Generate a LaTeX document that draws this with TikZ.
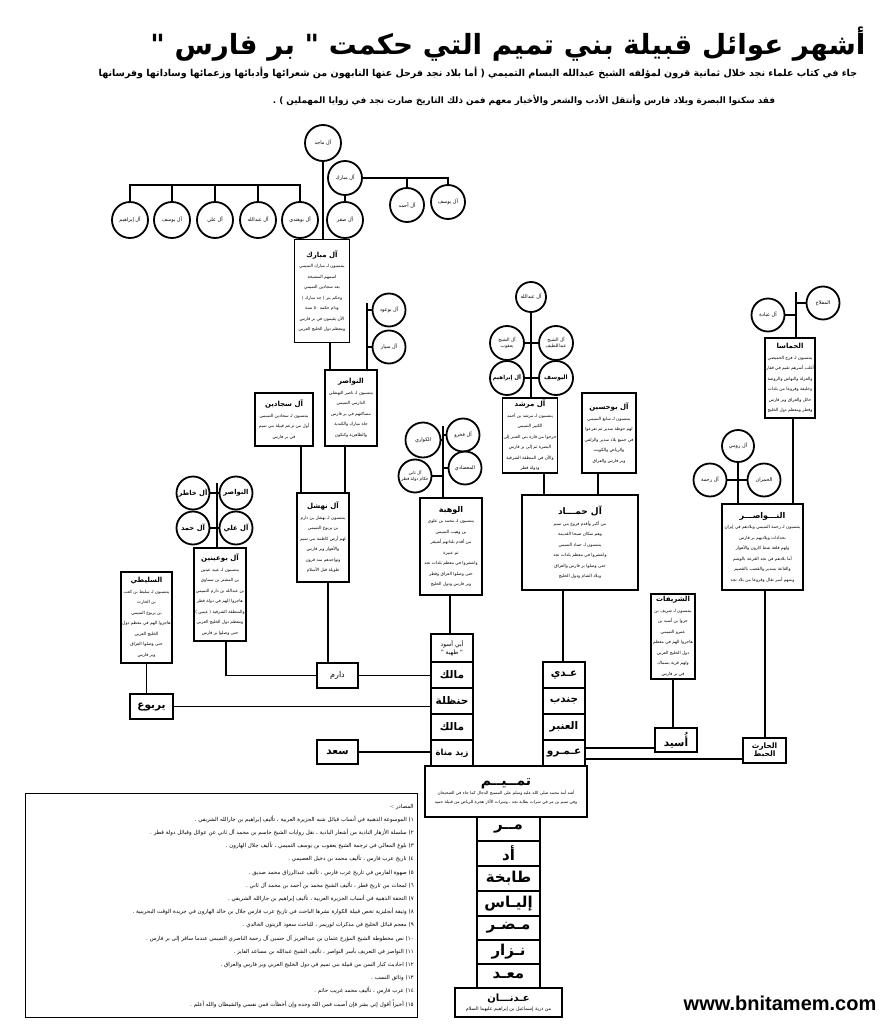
\documentclass[tikz,border=0pt]{standalone}
\usepackage{fontspec}
\usepackage{tikz}
\usetikzlibrary{positioning}
\newfontfamily\arabicfont[Script=Arabic]{DejaVu Sans}
\newfontfamily\webfont{Liberation Sans}
\TeXXeTstate=1
\newcommand\ar[1]{{\arabicfont\beginR #1\endR}}
\newcommand\hd[1]{{\fontsize{7}{11}\selectfont\bfseries\ar{#1}}}

\begin{document}
\begin{tikzpicture}[x=1pt,y=-1pt,
  link/.style={line width=1.8pt},
  circ/.style={circle,draw,line width=1.8pt,inner sep=0pt,minimum size=34pt,align=center,font=\fontsize{5}{6.5}\selectfont},
  namecirc/.style={circ,font=\fontsize{6.8}{8}\selectfont\bfseries},
  infobox/.style={draw,line width=1.8pt,inner sep=1pt,align=center,font=\fontsize{4.3}{10.5}\selectfont},
  namebox/.style={draw,line width=1.8pt,inner sep=0pt,minimum width=42pt,minimum height=25pt,align=center,font=\fontsize{10.5}{12}\selectfont\bfseries},
  stackbox/.style={namebox,minimum height=26pt},
  colbox/.style={namebox,minimum width=63pt,minimum height=24.6pt,font=\fontsize{15}{16}\selectfont\bfseries}]
  \useasboundingbox[fill=white] (0,0) rectangle (890,1024);

  % heading
  \node (title) at (508,44) [font=\fontsize{27.8}{33}\selectfont\bfseries] {\ar{أشهر عوائل قبيلة بني تميم التي حكمت " بر فارس "}};
  \node (intro1) at (478,73) [font=\fontsize{9.5}{11}\selectfont\bfseries] {\ar{جاء في كتاب علماء نجد خلال ثمانية قرون لمؤلفه الشيخ عبدالله البسام التميمي ( أما بلاد نجد فرحل عنها النابهون من شعرائها وأدبائها وزعمائها وساداتها وفرسانها}};
  \node (intro2) at (524,100) [font=\fontsize{8.8}{11}\selectfont\bfseries] {\ar{فقد سكنوا البصرة وبلاد فارس وأنتقل الأدب والشعر والأخبار معهم فمن ذلك التاريخ صارت نجد في زوايا المهملين ) .}};

  % top branch (al mubarak)
  \node[circ,minimum size=36pt] (majid) at (323,143) {\ar{آل ماجد}};
  \node[circ,minimum size=36pt] (ibrahim1) at (130,220) {\ar{آل إبراهيم}};
  \node[circ,minimum size=36pt] (yusuf1) at (172,220) {\ar{آل يوسف}};
  \node[circ,minimum size=36pt] (ali1) at (215,220) {\ar{آل علي}};
  \node[circ,minimum size=36pt] (abdullah1) at (258,220) {\ar{آل عبدالله}};
  \node[circ,minimum size=36pt] (buhindi) at (300,220) {\ar{آل بوهندي}};
  \node[circ] (mubarakc) at (345,178) {\ar{آل مبارك}};
  \node[circ,minimum size=36pt] (saqr) at (345,220) {\ar{آل صقر}};
  \node[circ] (ahmad) at (407,205) {\ar{آل أحمد}};
  \node[circ] (yusuf2) at (448,202) {\ar{آل يوسف}};
  \coordinate (lbar) at (0,185);
  \draw[link] (ibrahim1.north) |- (buhindi |- lbar) -- (buhindi.north);
  \foreach \n in {yusuf1,ali1,abdullah1}
    \draw[link] (\n.north) -- (\n |- lbar);
  \draw[link] (mubarakc.east) -| (yusuf2.north);
  \draw[link] (ahmad |- mubarakc) -- (ahmad.north);
  \draw[link] (mubarakc.south) -- (saqr.north);

  \node[infobox,minimum width=55pt,minimum height=103pt] (mubarakbox) at (322,291) {\hd{آل مبارك}\\\ar{ينتسبون لـ مبارك التميمي}\\\ar{اسمهم المشيخة}\\\ar{بعد سجادين التميمي}\\\ar{وحكم بنر ( جد مبارك )}\\\ar{ودام حكمه ٥٠ سنة}\\\ar{الآن يقيمون في بر فارس}\\\ar{ومعظم دول الخليج العربي}};
  \draw[link] (majid.south) -- (majid |- mubarakbox.north);

  \node[circ,minimum size=33pt] (buoud) at (389,310) {\ar{آل بوعود}};
  \node[circ,minimum size=33pt] (sayyar) at (389,347) {\ar{آل سيار}};
  \node[infobox,minimum width=52pt,minimum height=76pt] (nawasir1) at (351,408) {\hd{النواصر}\\\ar{ينتسبون لـ ناصر النهشلي}\\\ar{الدارمي التميمي}\\\ar{مساكنهم في بر فارس}\\\ar{جاه مبارك والكندية}\\\ar{والطاهرية وكنكون}};
  \coordinate (bq) at (367,303);
  \draw[link] (bq) -- (bq |- nawasir1.north);
  \draw[link] (buoud.west) -- (bq |- buoud.west);
  \draw[link] (sayyar.west) -- (bq |- sayyar.west);
  \coordinate (mt) at (330,0);
  \draw[link] (mt |- mubarakbox.south) -- (mt |- nawasir1.north);

  \node[infobox,minimum width=58pt,minimum height=53pt] (sajjadin) at (284,419.5) {\hd{آل سجادين}\\\ar{ينتسبون لـ سجادين التميمي}\\\ar{أول من تزعم قبيلة بني تميم}\\\ar{في بر فارس}};
  \node[infobox,minimum width=52pt,minimum height=89pt] (nahshal) at (323,537.5) {\hd{آل نهشل}\\\ar{ينتسبون لـ نهشل بن دارم}\\\ar{بن يربوع التميمي}\\\ar{لهم أرض كاظمة بني تميم}\\\ar{والأهواز وبر فارس}\\\ar{وتواجدهم منذ قرون}\\\ar{طويلة قبل الأسلام}};
  \coordinate (sn) at (301,0);
  \coordinate (nn) at (345,0);
  \draw[link] (sn |- sajjadin.south) -- (sn |- nahshal.north);
  \draw[link] (nn |- nawasir1.south) -- (nn |- nahshal.north);

  % left branch
  \node[namecirc,minimum size=33pt] (khatir) at (193,493) {\ar{آل خاطر}};
  \node[namecirc,minimum size=33pt] (nawasir2) at (236,493) {\ar{النواصر}};
  \node[namecirc,minimum size=33pt] (hamad) at (193,528) {\ar{آل حمد}};
  \node[namecirc,minimum size=33pt] (ali2) at (236,528) {\ar{آل علي}};
  \node[infobox,minimum width=52pt,minimum height=93pt] (buaynain) at (220,594.5) {\hd{آل بوعينين}\\\ar{ينتسبون لـ عبيد عينين}\\\ar{بن المشتر بن سماوي}\\\ar{بن عبدالله بن دارم التميمي}\\\ar{هاجروا الهم في دولة قطر}\\\ar{والمنطقة الشرقية ( عينين )}\\\ar{ومعظم دول الخليج العربي}\\\ar{حتى وصلوا بر فارس}};
  \coordinate (aq) at (217,483);
  \draw[link] (aq) -- (aq |- buaynain.north);
  \foreach \n in {khatir,hamad} \draw[link] (\n.east) -- (aq |- \n);
  \foreach \n in {nawasir2,ali2} \draw[link] (\n.west) -- (aq |- \n);

  \node[infobox,minimum width=51pt,minimum height=91pt] (sulayti) at (146.5,617.5) {\hd{السليطي}\\\ar{ينتسبون لـ سليط بن كعب}\\\ar{بن الحارث}\\\ar{بن يربوع التميمي}\\\ar{هاجروا الهم في معظم دول}\\\ar{الخليج العربي}\\\ar{حتى وصلوا العراق}\\\ar{وبر فارس}};
  \node[namebox,minimum width=43pt] (yarbu) at (151.5,706.5) {\ar{يربوع}};
  \node[namebox,minimum width=41pt,font=\fontsize{8}{9}\selectfont] (darim) at (337.5,675.5) {\ar{دارم}};
  \node[namebox,minimum width=41pt,minimum height=24pt] (saad) at (337.5,752) {\ar{سعد}};

  % left stack
  \node[stackbox,minimum height=28pt,font=\fontsize{6}{7.5}\selectfont] (abuaswad) at (452,648) {\ar{أبي أسود}\\\ar{" طهية "}};
  \node[stackbox] (malik1) at (452,675) {\ar{مالك}};
  \node[stackbox] (hanzala) at (452,701) {\ar{حنظلة}};
  \node[stackbox] (malik2) at (452,727) {\ar{مالك}};
  \node[stackbox,font=\fontsize{8.5}{10}\selectfont\bfseries] (zayd) at (452,753) {\ar{زيد مناة}};
  \coordinate (bd) at (226,0);
  \draw[link] (bd |- buaynain.south) |- (darim.west);
  \coordinate (nd) at (328,0);
  \draw[link] (nd |- nahshal.south) -- (nd |- darim.north);
  \draw[link] (darim.east) -- (malik1.west |- darim.east);
  \draw[link] (sulayti.south) -- (sulayti.south |- yarbu.north);
  \draw[link] (yarbu.east) -- (hanzala.west |- yarbu.east);
  \draw[link] (saad.east) -- (zayd.west |- saad.east);

  % al wahba
  \node[circ,minimum size=35pt] (kawari) at (423,440) {\ar{الكواري}};
  \node[circ,minimum size=33pt] (fakhro) at (463,435) {\ar{آل فخرو}};
  \node[circ,minimum size=33pt,font=\fontsize{4.3}{5.5}\selectfont] (thani) at (415,476) {\ar{آل ثاني}\\\ar{حكام دولة قطر}};
  \node[circ,minimum size=33pt] (midadi) at (465,468) {\ar{المعضادي}};
  \node[infobox,minimum width=62pt,minimum height=97pt] (wahba) at (451,546.5) {{\fontsize{8}{12}\selectfont\bfseries\ar{الوهبة}}\\\ar{ينتسبون لـ محمد بن علوي}\\\ar{بن وهيب التميمي}\\\ar{من أقدم بلداتهم أشيقر}\\\ar{ثم عنيزة}\\\ar{وانتشروا في معظم بلدات نجد}\\\ar{حتى وصلوا العراق وقطر}\\\ar{وبر فارس ودول الخليج}};
  \coordinate (wq) at (443,426);
  \draw[link] (wq) -- (wq |- wahba.north);
  \foreach \n in {kawari,thani} \draw[link] (\n.east) -- (wq |- \n);
  \foreach \n in {fakhro,midadi} \draw[link] (\n.west) -- (wq |- \n);
  \coordinate (wa) at (450,0);
  \draw[link] (wa |- wahba.south) -- (wa |- abuaswad.north);

  % al hammad
  \node[circ,minimum size=30pt] (abdullah2) at (531,297) {\ar{آل عبدالله}};
  \node[circ,minimum size=34pt,font=\fontsize{4.6}{6}\selectfont] (yaqub) at (507,343) {\ar{آل الشيخ}\\\ar{يعقوب}};
  \node[circ,minimum size=34pt,font=\fontsize{4.6}{6}\selectfont] (abdullatif) at (556,343) {\ar{آل الشيخ}\\\ar{عبداللطيف}};
  \node[namecirc,minimum size=34pt,font=\fontsize{5.5}{7}\selectfont\bfseries] (ibrahim2) at (507,378) {\ar{آل إبراهيم}};
  \node[namecirc,minimum size=34pt,font=\fontsize{6}{7}\selectfont\bfseries] (yusuf3) at (556,378) {\ar{اليوسف}};
  \node[infobox,minimum width=54pt,minimum height=75pt] (murshid) at (530,435.5) {\hd{آل مرشد}\\\ar{ينتسبون لـ مرشد بن أحمد}\\\ar{الكبير التميمي}\\\ar{خرجوا من قارة بني العنبر إلى}\\\ar{البصرة ثم إلى بر فارس}\\\ar{والآن في المنطقة الشرقية}\\\ar{ودولة قطر}};
  \node[infobox,minimum width=54pt,minimum height=80pt] (buhusain) at (609,433) {\hd{آل بوحسين}\\\ar{ينتسبون لـ سابع التميمي}\\\ar{لهم حوطة سدير ثم تفرعوا}\\\ar{في جميع بلاد سدير والزلفي}\\\ar{والرياض والكويت}\\\ar{وبر فارس والعراق}};
  \coordinate (hq) at (531,0);
  \draw[link] (abdullah2.south) -- (hq |- murshid.north);
  \foreach \n in {yaqub,ibrahim2} \draw[link] (\n.east) -- (hq |- \n);
  \foreach \n in {abdullatif,yusuf3} \draw[link] (\n.west) -- (hq |- \n);
  \node[infobox,minimum width=116pt,minimum height=95pt] (hammad) at (580,542.5) {{\fontsize{9}{13}\selectfont\bfseries\ar{آل حمـــاد}}\\\ar{من أكبر وأقدم فروع بني تميم}\\\ar{وهم سكان صبحا القديمة}\\\ar{ينتسبون لـ حماد التميمي}\\\ar{وانتشروا في معظم بلدات نجد}\\\ar{حتى وصلوا بر فارس والعراق}\\\ar{وبلاد الشام ودول الخليج}};
  \coordinate (mh) at (544,0);
  \coordinate (bh) at (598,0);
  \draw[link] (mh |- murshid.south) -- (mh |- hammad.north);
  \draw[link] (bh |- buhusain.south) -- (bh |- hammad.north);

  % right stack
  \node[stackbox] (adi) at (564,675) {\ar{عـدي}};
  \node[stackbox] (jundub) at (564,701) {\ar{جندب}};
  \node[stackbox] (anbar) at (564,727) {\ar{العنبر}};
  \node[stackbox] (amr) at (564,753) {\ar{عـمـرو}};
  \coordinate (ha) at (563,0);
  \draw[link] (ha |- hammad.south) -- (ha |- adi.north);

  % right branch
  \node[circ,minimum size=33pt] (miflah) at (823,303) {\ar{المفلاح}};
  \node[circ,minimum size=33pt] (abada) at (768,315) {\ar{آل عبادة}};
  \node[infobox,minimum width=50pt,minimum height=80pt] (hamasa) at (790,378) {\hd{الحماسا}\\\ar{ينتسبون لـ فرج الحميضي}\\\ar{أغلب أسرهم تقيم في قفار}\\\ar{والعزلة والنهاش والروضة}\\\ar{وخليفة وفروعا من بلدات}\\\ar{حائل والعراق وبر فارس}\\\ar{وقطر ومعظم دول الخليج}};
  \coordinate (mq) at (796,292);
  \draw[link] (mq) -- (mq |- hamasa.north);
  \draw[link] (miflah.west) -- (mq |- miflah.west);
  \draw[link] (abada.east) -- (mq |- abada.east);

  \node[circ,minimum size=32pt] (rumi) at (738,446) {\ar{آل رومي}};
  \node[circ,minimum size=33pt] (rahma) at (710,480) {\ar{آل رحمة}};
  \node[circ,minimum size=33pt] (humran) at (764,480) {\ar{الحمران}};
  \node[infobox,minimum width=81pt,minimum height=86pt] (nawasir3) at (762.5,547) {{\fontsize{8}{12}\selectfont\bfseries\ar{النـــواصـــر}}\\\ar{ينتسبون لـ رحمة التميمي وبلادهم في إيران}\\\ar{بحدادات ويلاديهم بر فارس}\\\ar{ولهم قلعة شط كارون والأهواز}\\\ar{أما بلادهم في نجد القرعة بالوشم}\\\ar{والقاعة بسدير والقصب بالقصيم}\\\ar{ومنهم أسر تقال وفروعا من بلاد نجد}};
  \draw[link] (rumi.south) -- (rumi.south |- nawasir3.north);
  \draw[link] (rahma.east) -- (rumi |- rahma.east);
  \draw[link] (humran.west) -- (rumi |- humran.west);
  \coordinate (hn) at (793,0);
  \draw[link] (hn |- hamasa.south) -- (hn |- nawasir3.north);

  \node[infobox,minimum width=44pt,minimum height=85pt] (sharifat) at (673,636.5) {\hd{الشريفات}\\\ar{ينتسبون لـ شريف بن}\\\ar{جروا بن أسيد بن}\\\ar{عمرو التميمي}\\\ar{هاجروا الهم في معظم}\\\ar{دول الخليج العربي}\\\ar{ولهم قرية بسماك}\\\ar{في بر فارس}};
  \node[namebox,minimum height=24pt] (usayd) at (676,740) {\ar{أُسيد}};
  \node[namebox,minimum width=43pt,font=\fontsize{7.5}{8.5}\selectfont\bfseries] (harith) at (764.5,750.5) {\ar{الحارث}\\\ar{الحبط}};
  \draw[link] (sharifat.south) -- (sharifat.south |- usayd.north);
  \coordinate (nh) at (765,0);
  \draw[link] (nh |- nawasir3.south) -- (nh |- harith.north);
  \coordinate (ua) at (0,748);
  \coordinate (hb) at (0,759);
  \draw[link] (amr.east |- ua) -- (usayd.west |- ua);
  \draw[link] (amr.east |- hb) -- (harith.west |- hb);

  % tamim and the line down to adnan
  \node[infobox,minimum width=162pt,minimum height=51pt,font=\fontsize{4.2}{9}\selectfont] (tamim) at (506,791.5) {{\fontsize{14}{17}\selectfont\bfseries\ar{تمــيــم}}\\\ar{أشد أمة محمد صلى الله عليه وسلم على المسيح الدجال كما جاء في الصحيحان}\\\ar{وفي تميم بن مر في سرات بطاية نجد ، وسرات الآثار هجرة للرياض من قبيلة حميد}};
  \node[colbox] (murr) at (508.5,829) {\ar{مــر}};
  \node[colbox] (udd) at (508.5,853.5) {\ar{أد}};
  \node[colbox] (tabikha) at (508.5,878.5) {\ar{طابخة}};
  \node[colbox] (ilyas) at (508.5,903.5) {\ar{إليـاس}};
  \node[colbox] (mudar) at (508.5,928) {\ar{مـضـر}};
  \node[colbox] (nizar) at (508.5,952) {\ar{نـزار}};
  \node[colbox] (maad) at (508.5,976) {\ar{معـد}};
  \node[infobox,minimum width=107pt,minimum height=29pt,font=\fontsize{4.8}{9}\selectfont] (adnan) at (508.5,1002.5) {{\fontsize{10}{12}\selectfont\bfseries\ar{عـدنـــان}}\\\ar{من ذرية إسماعيل بن إبراهيم عليهما السلام}};

  % sources
  \node[draw,line width=1.4pt,anchor=north west,minimum width=392pt,minimum height=224pt,text width=384pt,align=right,inner sep=3pt,font=\fontsize{5.5}{13.2}\selectfont] (sources) at (25,793) {\ar{المصادر :-}\\
\ar{١) الموسوعة الذهبية في أنساب قبائل شبه الجزيرة العربية ، تأليف إبراهيم بن جارالله الشريفي .}\\
\ar{٢) سلسلة الأزهار النادية من أشعار البادية ، نقل روايات الشيخ جاسم بن محمد آل ثاني عن عوائل وقبائل دولة قطر .}\\
\ar{٣) بلوغ المعالي في ترجمة الشيخ يعقوب بن يوسف التميمي ، تأليف جلال الهارون .}\\
\ar{٤) تاريخ عرب فارس ، تأليف محمد بن دخيل العصيمي .}\\
\ar{٥) صهوة الفارس في تاريخ عرب فارس ، تأليف عبدالرزاق محمد صديق .}\\
\ar{٦) لمحات من تاريخ قطر ، تأليف الشيخ محمد بن أحمد بن محمد آل ثاني .}\\
\ar{٧) التحفة الذهبية في أنساب الجزيرة العربية ، تأليف إبراهيم بن جارالله الشريفي .}\\
\ar{٨) وثيقة أنجليزية تخص قبيلة الكوارة نشرها الباحث في تاريخ عرب فارس جلال بن خالد الهارون في جريدة الوقت البحرينية .}\\
\ar{٩) معجم قبائل الخليج في مذكرات لوريمر ، للباحث سعود الزيتون الخالدي .}\\
\ar{١٠) نص مخطوطة الشيخ المؤرخ عثمان بن عبدالعزيز آل حسين آل رحمة الناصري التميمي عندما سافر إلى بر فارس .}\\
\ar{١١) النواصر في التعريف بأسر النواصر ، تأليف الشيخ عبدالله بن مساعد الفايز .}\\
\ar{١٢) احاديث كبار السن من قبيلة بني تميم في دول الخليج العربي وبر فارس والعراق .}\\
\ar{١٣) وثائق النسب .}\\
\ar{١٤) عرب فارس ، تأليف محمد غريب حاتم .}\\
\ar{١٥) أخيراً أقول إني بشر فإن أصبت فمن الله وحده وإن أخطأت فمن نفسي والشيطان والله أعلم .}};

  \node (web) at (780,1003) [font=\webfont\bfseries\fontsize{20}{22}\selectfont] {www.bnitamem.com};
\end{tikzpicture}
\end{document}
